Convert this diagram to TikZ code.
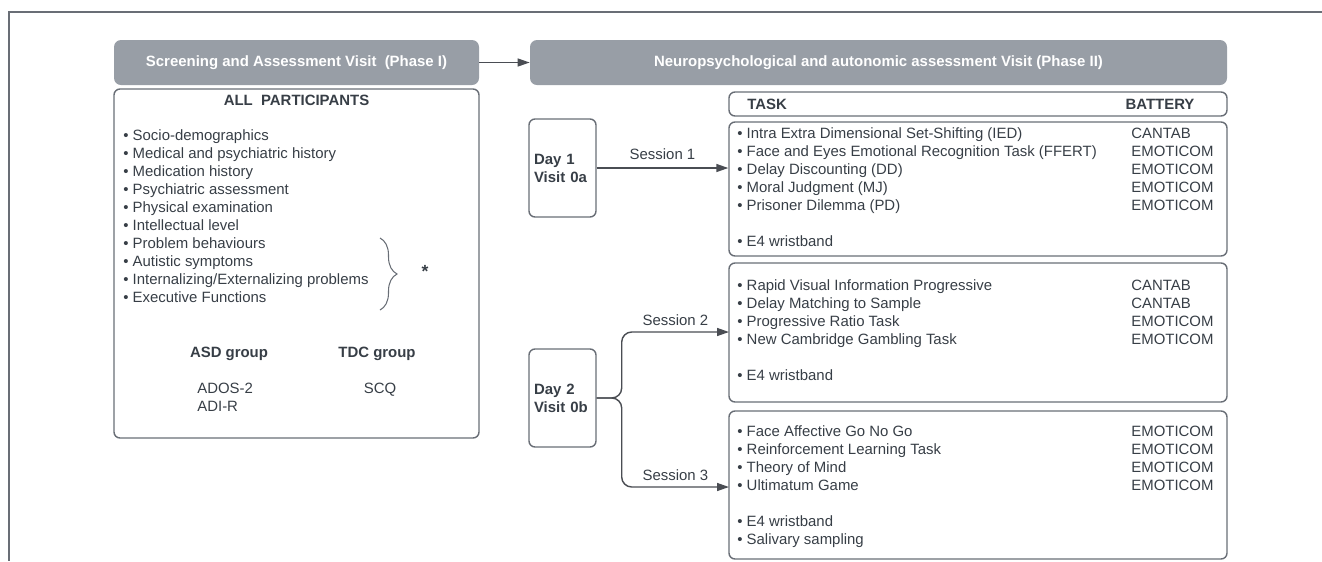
\documentclass[tikz,border=0pt]{standalone}
\usepackage{fontspec}
\setmainfont{Liberation Sans}
\usetikzlibrary{arrows.meta,decorations.pathreplacing}
\definecolor{hdrGray}{RGB}{152,158,166}
\definecolor{lineGray}{RGB}{105,110,118}
\definecolor{txtGray}{RGB}{55,62,70}

\begin{document}
\begin{tikzpicture}
\tikzset{
    header/.style={
        rectangle, rounded corners=0.14cm,
        fill=hdrGray, minimum height=0.9cm,
        text=white, font=\fontsize{8.5}{10.2}\selectfont\bfseries
    },
    panel/.style={
        rectangle, rounded corners=0.12cm,
        draw=lineGray, line width=0.8pt
    },
    daybox/.style={
        panel, minimum width=1.34cm, minimum height=1.96cm,
        text width=1.14cm, inner sep=0.1cm, align=left,
        text=txtGray, font=\fontsize{8.5}{10.2}\selectfont\bfseries
    },
    item/.style={
        anchor=west, inner sep=0pt, text=txtGray,
        text height=1.7ex, text depth=0.5ex,
        font=\fontsize{8.5}{10.2}\selectfont
    },
    bolditem/.style={
        item, font=\fontsize{8.5}{10.2}\selectfont\bfseries
    },
    arrow/.style={
        draw=lineGray!70!black, line width=0.8pt,
        -{Triangle[length=0.24cm,width=0.16cm]}
    }
}
\useasboundingbox (0,0) rectangle (26.44,-11.22);

% Rama figurii
\draw[lineGray, line width=0.6pt] (26.44,-0.24) -- (0.18,-0.24) -- (0.18,-11.22);

% Antete
\node[header, minimum width=7.3cm]   (phase1) at (5.93, -1.25)  {Screening and Assessment Visit\ \ (Phase I)};
\node[header, minimum width=13.94cm] (phase2) at (17.57, -1.25) {Neuropsychological and autonomic assessment Visit (Phase II)};
\draw[arrow] (phase1) -- (phase2);

% Faza I
\node[panel, minimum width=7.3cm, minimum height=6.98cm] (allbox) at (5.93, -5.27) {};
\node[bolditem, anchor=center] (allhdr) at (5.93, -2.0) {ALL\ \ PARTICIPANTS};
\foreach \txt [count=\i from 0] in {Socio-demographics, Medical and psychiatric history,
    Medication history, Psychiatric assessment, Physical examination, Intellectual level,
    Problem behaviours, Autistic symptoms, Internalizing/Externalizing problems, Executive Functions}
    \node[item] (all\i) at (2.46, -2.7-0.36*\i) {\textbullet\ \txt};
\draw[lineGray, line width=0.6pt, decorate, decoration={brace, amplitude=0.34cm}]
    (7.6, -4.76) -- (7.6, -6.2);
\node[bolditem, anchor=center, font=\fontsize{10}{12}\selectfont\bfseries] (star) at (8.5, -5.44) {*};

\node[bolditem, anchor=center] (asd)  at (4.58, -7.04) {ASD group};
\node[bolditem, anchor=center] (tdc)  at (7.54, -7.04) {TDC group};
\node[item] (ados) at (3.94, -7.76) {ADOS-2};
\node[item] (adir) at (3.94, -8.12) {ADI-R};
\node[item, anchor=center] (scq) at (7.6, -7.76) {SCQ};

% Faza II
\node[panel, minimum width=9.96cm, minimum height=0.48cm] (taskhdr) at (19.56, -2.08) {};
\node[bolditem] (tasklbl) at (14.94, -2.08) {TASK};
\node[bolditem, anchor=center] (batlbl) at (23.2, -2.08) {BATTERY};

\node[panel, minimum width=9.96cm, minimum height=2.68cm] (s1) at (19.56, -3.78) {};
\node[panel, minimum width=9.96cm, minimum height=2.78cm] (s2) at (19.56, -6.65) {};
\node[panel, minimum width=9.96cm, minimum height=2.96cm] (s3) at (19.56, -9.7)  {};

\foreach \task/\bat [count=\i from 0] in {Intra Extra Dimensional Set-Shifting (IED)/CANTAB,
    Face and Eyes Emotional Recognition Task (FFERT)/EMOTICOM, Delay Discounting (DD)/EMOTICOM,
    Moral Judgment (MJ)/EMOTICOM, Prisoner Dilemma (PD)/EMOTICOM} {
    \node[item] (ta\i) at (14.74, -2.66-0.36*\i) {\textbullet\ \task};
    \node[item] (ba\i) at (22.62, -2.66-0.36*\i) {\bat};
}
\node[item] (e4a) at (14.74, -4.82) {\textbullet\ E4 wristband};

\foreach \task/\bat [count=\i from 0] in {Rapid Visual Information Progressive/CANTAB,
    Delay Matching to Sample/CANTAB, Progressive Ratio Task/EMOTICOM,
    New Cambridge Gambling Task/EMOTICOM} {
    \node[item] (tb\i) at (14.74, -5.7-0.36*\i) {\textbullet\ \task};
    \node[item] (bb\i) at (22.62, -5.7-0.36*\i) {\bat};
}
\node[item] (e4b) at (14.74, -7.5) {\textbullet\ E4 wristband};

\foreach \task/\bat [count=\i from 0] in {Face Affective Go No Go/EMOTICOM,
    Reinforcement Learning Task/EMOTICOM, Theory of Mind/EMOTICOM, Ultimatum Game/EMOTICOM} {
    \node[item] (tc\i) at (14.74, -8.62-0.36*\i) {\textbullet\ \task};
    \node[item] (bc\i) at (22.62, -8.62-0.36*\i) {\bat};
}
\node[item] (e4c)  at (14.74, -10.42) {\textbullet\ E4 wristband};
\node[item] (saliv) at (14.74, -10.78) {\textbullet\ Salivary sampling};

% Zile
\node[daybox] (day1) at (11.25, -3.36) {Day 1\\Visit 0a};
\node[daybox] (day2) at (11.25, -7.96) {Day 2\\Visit 0b};

% Sageti
\coordinate (s2in) at (14.58, -6.64);
\coordinate (s3in) at (14.58, -9.74);
\draw[arrow] (day1) -- (day1 -| s1.west)
    node[midway, item, anchor=south, inner sep=2pt] {Session 1};
\draw[arrow, rounded corners=0.2cm] (day2.east) -- ++(0.5,0) |- (s2in)
    node[pos=0.75, item, anchor=south, inner sep=0.5pt] {Session 2};
\draw[arrow, rounded corners=0.2cm] (day2.east) -- ++(0.5,0) |- (s3in)
    node[pos=0.75, item, anchor=south, inner sep=0.5pt] {Session 3};
\end{tikzpicture}
\end{document}
